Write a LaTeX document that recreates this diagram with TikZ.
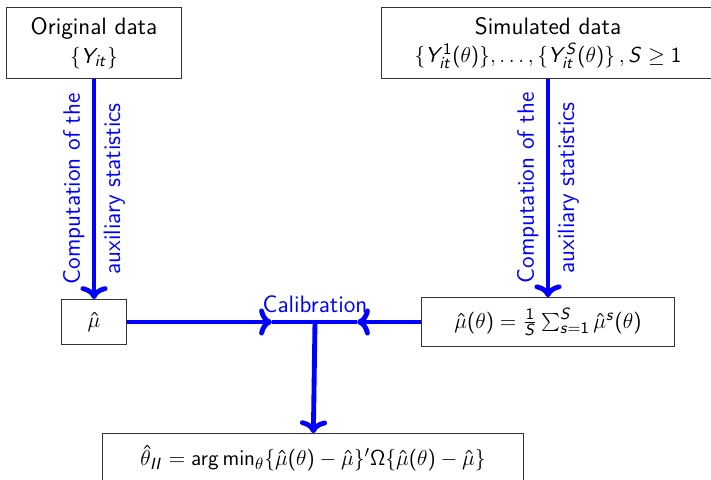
\documentclass[tikz,border=0pt,11pt]{standalone}
\renewcommand{\familydefault}{\sfdefault}
\DeclareSymbolFont{sfit}{OT1}{cmss}{m}{it}
\SetSymbolFont{operators}{normal}{OT1}{cmss}{m}{n}
\makeatletter
\@tfor\x:=ABCDEFGHIJKLMNOPQRSTUVWXYZabcdefghijklmnopqrstuvwxyz\do{%
  \edef\tmp{\noexpand\DeclareMathSymbol{\x}{\noexpand\mathalpha}{sfit}{`\x}}\tmp}
\makeatother
\usetikzlibrary{positioning,arrows.meta}

\begin{document}
\begin{tikzpicture}[x=0.5556pt, y=-0.5556pt,
font=\fontsize{13.2}{16}\selectfont,
>={To[scale=0.95]},
box/.style={draw=black!80, line width=0.5pt, align=center, inner sep=0pt},
flow/.style={blue, line width=2.7pt},
lbl/.style={text=blue, inner sep=4pt}
]
\useasboundingbox (0,0) rectangle (711,480);

\node[box, minimum width=97pt, minimum height=39pt] (orig) at (94,43) {Original data\\ $\{Y_{it}\}$};
\node[box, minimum width=185pt, minimum height=39pt] (sim) at (548,43) {Simulated data\\ $\{Y_{it}^1(\theta)\},\ldots,\{Y_{it}^S(\theta)\}\,,S\geq 1$};
\node[box, minimum width=36pt, minimum height=25pt] (muhat) at (94,322) {$\hat{\mu}$};
\node[box, minimum width=141pt, minimum height=27pt] (muhatS) at (548,322) {$\hat{\mu}(\theta)=\frac{1}{S}\sum_{s=1}^{S}\hat{\mu}^s(\theta)$};
\node[box, minimum width=234pt, minimum height=27pt] (thetaII) at (313,458) {$\hat{\theta}_{II}=\arg\min_{\theta}\{\hat{\mu}(\theta)-\hat{\mu}\}'\Omega\{\hat{\mu}(\theta)-\hat{\mu}\}$};

\coordinate (cal) at (315,322);
\coordinate (calL) at (272,322);
\coordinate (calR) at (357,322);

\draw[flow,->] (orig) -- (muhat)
  node[lbl, midway, rotate=90, above] {Computation of the}
  node[lbl, midway, rotate=90, below] {auxiliary statistics};
\draw[flow,->] (sim) -- (muhatS)
  node[lbl, midway, rotate=90, above] {Computation of the}
  node[lbl, midway, rotate=90, below] {auxiliary statistics};

\draw[flow,->] (muhat) -- (calL);
\draw[flow,->] (muhatS) -- (calR);
\draw[flow] (calL) -- (calR);
\draw[flow,->] (cal) -- (thetaII);
\node[lbl, above=1pt of cal] (calib) {Calibration};

\end{tikzpicture}
\end{document}
